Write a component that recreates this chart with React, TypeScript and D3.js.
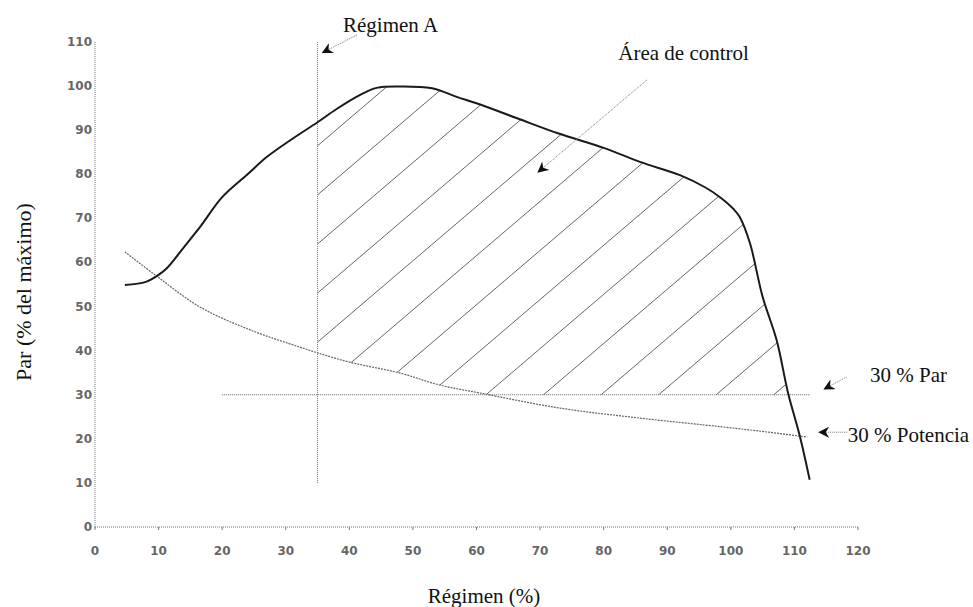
import React, { useRef, useEffect } from "react";
import * as d3 from "d3";

// torque curve (Par)
const torqueX = [4.7, 8, 9.7, 11.3, 14, 16.5, 20, 24, 27, 31, 35, 38, 41.7, 44.3, 48, 53, 57, 60, 66.4, 72.8, 80, 85.7, 92, 96, 98.3, 100.5, 101.4, 103, 105, 107.2, 109, 110.8, 112.4];
const torqueY = [54.9, 55.6, 56.9, 58.7, 63.5, 68, 74.8, 80, 83.9, 88, 91.8, 94.8, 98, 99.6, 99.9, 99.5, 97.5, 96.1, 92.7, 89.3, 86, 82.8, 79.8, 77, 74.8, 72, 70.3, 64.4, 52.2, 42.4, 30.4, 20.9, 10.7];

// power curve (Potencia)
const powerX = [4.7, 9.7, 16.5, 24.4, 32.2, 35, 40, 48, 54.2, 60.5, 73, 85.7, 98.7, 106, 112];
const powerY = [62.4, 56.9, 49.9, 44.7, 40.8, 39.5, 37.4, 34.9, 32.2, 30.4, 27, 24.7, 22.7, 21.5, 20.4];

const xTicks = [0, 10, 20, 30, 40, 50, 60, 70, 80, 90, 100, 110, 120];
const yTicks = [0, 10, 20, 30, 40, 50, 60, 70, 80, 90, 100, 110];

// reference lines
const parLevel = 30;
const parFrom = 20;
const parTo = 112.5;
const regimenA = 35;
const regimenFrom = 10;
const regimenTo = 110;

// annotations
const noteLabels = ["Régimen A", "Área de control", "30 % Par", "30 % Potencia"];
const noteTextX = [39, 82.3, 121.9, 118.4];
const noteTextY = [112.3, 105.9, 32.9, 19.3];
const noteFromX = [41.2, 86.8, 118.2, 118.3];
const noteFromY = [111.6, 101.4, 34.0, 21.5];
const noteToX = [35.8, 69.7, 114.7, 113.9];
const noteToY = [107.6, 80.5, 31.3, 21.5];

const W = 973;
const H = 607;

const App = () => {
    const ref = useRef(null);

    useEffect(() => {
        const svg = d3.select(ref.current);
        svg.selectAll("*").remove();

        const x = d3.scaleLinear().domain([0, 120]).range([95, 858]);
        const y = d3.scaleLinear().domain([0, 110]).range([527, 42]);

        const torque = torqueX.map((d, i) => [d, torqueY[i]]);
        const power = powerX.map((d, i) => [d, powerY[i]]);

        const line = d3.line()
            .x((d) => x(d[0]))
            .y((d) => y(d[1]))
            .curve(d3.curveCatmullRom.alpha(0.5));

        const defs = svg.append("defs");

        // clip: under the torque curve
        defs.append("clipPath").attr("id", "under-torque")
            .append("path")
            .attr("d", line(torque) + `L${x(torqueX[torqueX.length - 1])},${y(0)}L${x(torqueX[0])},${y(0)}Z`);
        // clip: above the power curve
        defs.append("clipPath").attr("id", "above-power")
            .append("path")
            .attr("d", line(power) + `L${x(120)},${y(powerY[powerY.length - 1])}L${x(120)},${y(110)}L${x(powerX[0])},${y(110)}Z`);
        // clip: right of Régimen A and above 30 % Par
        defs.append("clipPath").attr("id", "control-box")
            .append("rect")
            .attr("x", x(regimenA))
            .attr("y", y(110))
            .attr("width", x(120) - x(regimenA))
            .attr("height", y(parLevel) - y(110));

        defs.append("marker")
            .attr("id", "head")
            .attr("viewBox", "0 0 10 10")
            .attr("refX", 9)
            .attr("refY", 5)
            .attr("markerWidth", 11)
            .attr("markerHeight", 11)
            .attr("markerUnits", "userSpaceOnUse")
            .attr("orient", "auto")
            .append("path")
            .attr("d", "M0,0L10,5L0,10L3,5Z")
            .attr("fill", "#111");

        // hatching of the control area
        const hatch = svg.append("g").attr("clip-path", "url(#under-torque)")
            .append("g").attr("clip-path", "url(#above-power)")
            .append("g").attr("clip-path", "url(#control-box)");

        const slope = 0.853;
        const anchor = x(61.5);
        const step = x(9.05) - x(0);
        const hatchIdx = d3.range(-12, 14);
        hatch.selectAll("line")
            .data(hatchIdx)
            .join("line")
            .attr("x1", (k) => anchor + k * step - 400)
            .attr("y1", y(parLevel) + 400 * slope)
            .attr("x2", (k) => anchor + k * step + 400)
            .attr("y2", y(parLevel) - 400 * slope)
            .attr("stroke", "#666")
            .attr("stroke-width", 1);

        // axes (dotted)
        svg.append("line")
            .attr("x1", x(0)).attr("x2", x(0))
            .attr("y1", y(0)).attr("y2", y(110))
            .attr("stroke", "#777").attr("stroke-dasharray", "1,1");
        svg.append("line")
            .attr("x1", x(0)).attr("x2", x(120))
            .attr("y1", y(0)).attr("y2", y(0))
            .attr("stroke", "#777").attr("stroke-dasharray", "1,1");

        svg.append("g").selectAll("line")
            .data(xTicks)
            .join("line")
            .attr("x1", (d) => x(d)).attr("x2", (d) => x(d))
            .attr("y1", y(0)).attr("y2", y(0) + 3)
            .attr("stroke", "#777");

        const tickFont = "'DejaVu Sans', sans-serif";
        svg.append("g").selectAll("text")
            .data(xTicks)
            .join("text")
            .attr("x", (d) => x(d))
            .attr("y", y(0) + 28)
            .attr("text-anchor", "middle")
            .attr("font-family", tickFont)
            .attr("font-weight", "bold")
            .attr("font-size", 12)
            .attr("fill", "#666")
            .text((d) => d);

        svg.append("g").selectAll("text")
            .data(yTicks)
            .join("text")
            .attr("x", x(0) - 3)
            .attr("y", (d) => y(d) + 4)
            .attr("text-anchor", "end")
            .attr("font-family", tickFont)
            .attr("font-weight", "bold")
            .attr("font-size", 12)
            .attr("fill", "#666")
            .text((d) => d);

        // 30 % Par line and Régimen A line
        svg.append("line")
            .attr("x1", x(parFrom)).attr("x2", x(parTo))
            .attr("y1", y(parLevel)).attr("y2", y(parLevel))
            .attr("stroke", "#666").attr("stroke-width", 1.2).attr("stroke-dasharray", "1,1");
        svg.append("line")
            .attr("x1", x(regimenA)).attr("x2", x(regimenA))
            .attr("y1", y(regimenFrom)).attr("y2", y(regimenTo))
            .attr("stroke", "#777").attr("stroke-dasharray", "1,1");

        // power curve
        svg.append("path")
            .attr("d", line(power))
            .attr("fill", "none")
            .attr("stroke", "#666")
            .attr("stroke-width", 1.2)
            .attr("stroke-dasharray", "2,1");

        // torque curve
        svg.append("path")
            .attr("d", line(torque))
            .attr("fill", "none")
            .attr("stroke", "#1a1a1a")
            .attr("stroke-width", 2);

        // annotations
        const serif = "'Liberation Serif', 'Times New Roman', serif";
        noteLabels.forEach((label, i) => {
            svg.append("line")
                .attr("x1", x(noteFromX[i])).attr("y1", y(noteFromY[i]))
                .attr("x2", x(noteToX[i])).attr("y2", y(noteToY[i]))
                .attr("stroke", "#777")
                .attr("stroke-dasharray", "1,1")
                .attr("marker-end", "url(#head)");
            svg.append("text")
                .attr("x", x(noteTextX[i]))
                .attr("y", y(noteTextY[i]))
                .attr("font-family", serif)
                .attr("font-size", 21)
                .attr("fill", "#111")
                .text(label);
        });

        // axis titles
        svg.append("text")
            .attr("x", 484)
            .attr("y", 603)
            .attr("text-anchor", "middle")
            .attr("font-family", serif)
            .attr("font-size", 21)
            .attr("fill", "#111")
            .text("Régimen (%)");

        svg.append("text")
            .attr("transform", "translate(31,292) rotate(-90)")
            .attr("text-anchor", "middle")
            .attr("font-family", serif)
            .attr("font-size", 22)
            .attr("fill", "#111")
            .text("Par (% del máximo)");
    }, []);

    return (
        <svg ref={ref} width={W} height={H}
            style={{ position: "absolute", left: 0, top: 0, background: "#fff" }} />
    );
};

export default App;
